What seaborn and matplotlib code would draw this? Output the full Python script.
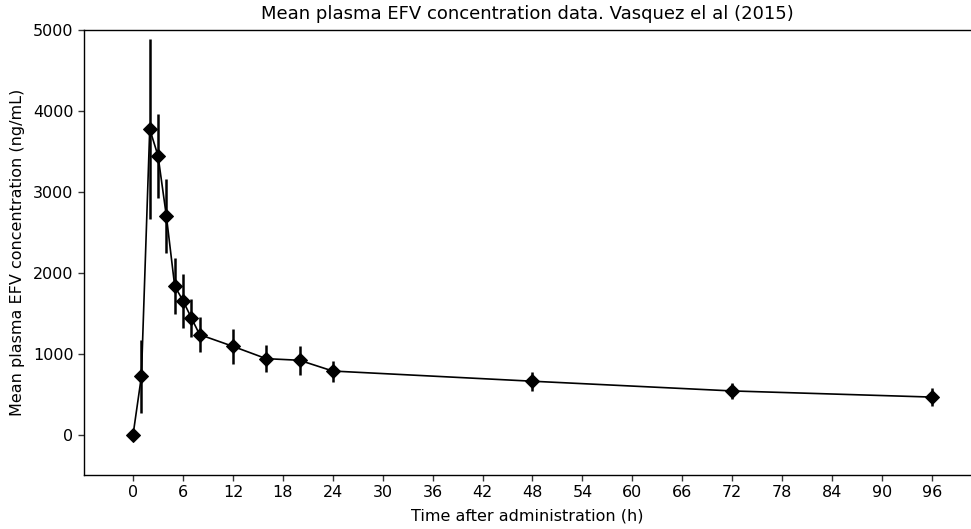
import matplotlib
matplotlib.use("Agg")
import matplotlib.pyplot as plt
import seaborn as sns
import pandas as pd

time_h = [0, 1, 2, 3, 4, 5, 6, 7, 8, 12, 16, 20, 24, 48, 72, 96]
mean_conc = [0, 720, 3775, 3444, 2700, 1835, 1654, 1442, 1235, 1090, 938, 918, 785, 659, 539, 463]
sd_conc = [0, 450, 1117, 518, 455, 350, 333, 237, 212, 218, 165, 180, 130, 115, 95, 110]
x_ticks = list(range(0, 97, 6))
y_ticks = [0, 1000, 2000, 3000, 4000, 5000]

df = pd.DataFrame({"time": time_h, "conc": mean_conc, "sd": sd_conc})

sns.set_style("ticks")
plt.rcParams["font.family"] = ["DejaVu Sans"]
plt.rcParams.update({"text.color": "black", "axes.labelcolor": "black",
                     "xtick.color": "black", "ytick.color": "black"})

fig = plt.figure(figsize=(9.71, 5.29), dpi=100)
ax = fig.add_axes([84 / 971, (529 - 475) / 529, (971 - 84) / 971, (475 - 30) / 529])

ax.errorbar(df["time"], df["conc"], yerr=df["sd"], fmt="none", ecolor="black",
            elinewidth=1.8, capsize=0, zorder=2)
sns.lineplot(data=df, x="time", y="conc", ax=ax, color="black", linewidth=1.2,
             marker="D", markersize=7.5, markeredgecolor="black", markerfacecolor="black",
             zorder=3)

ax.set_xlim(-5.9, 100.7)
ax.set_ylim(-500, 5000)
ax.set_xticks(x_ticks)
ax.set_yticks(y_ticks)
ax.tick_params(labelsize=11.5, length=4, width=1, color="#333333", labelcolor="black")
ax.set_xlabel("Time after administration (h)", fontsize=11.5, labelpad=6)
ax.set_ylabel("Mean plasma EFV concentration (ng/mL)", fontsize=11.5, labelpad=6)
ax.set_title("Mean plasma EFV concentration data. Vasquez el al (2015)", fontsize=13,
             pad=8, color="black")
ax.spines["right"].set_visible(False)
for s in ["top", "left", "bottom"]:
    ax.spines[s].set_color("black")
    ax.spines[s].set_linewidth(1.0)

fig.savefig("out.png", dpi=100)
